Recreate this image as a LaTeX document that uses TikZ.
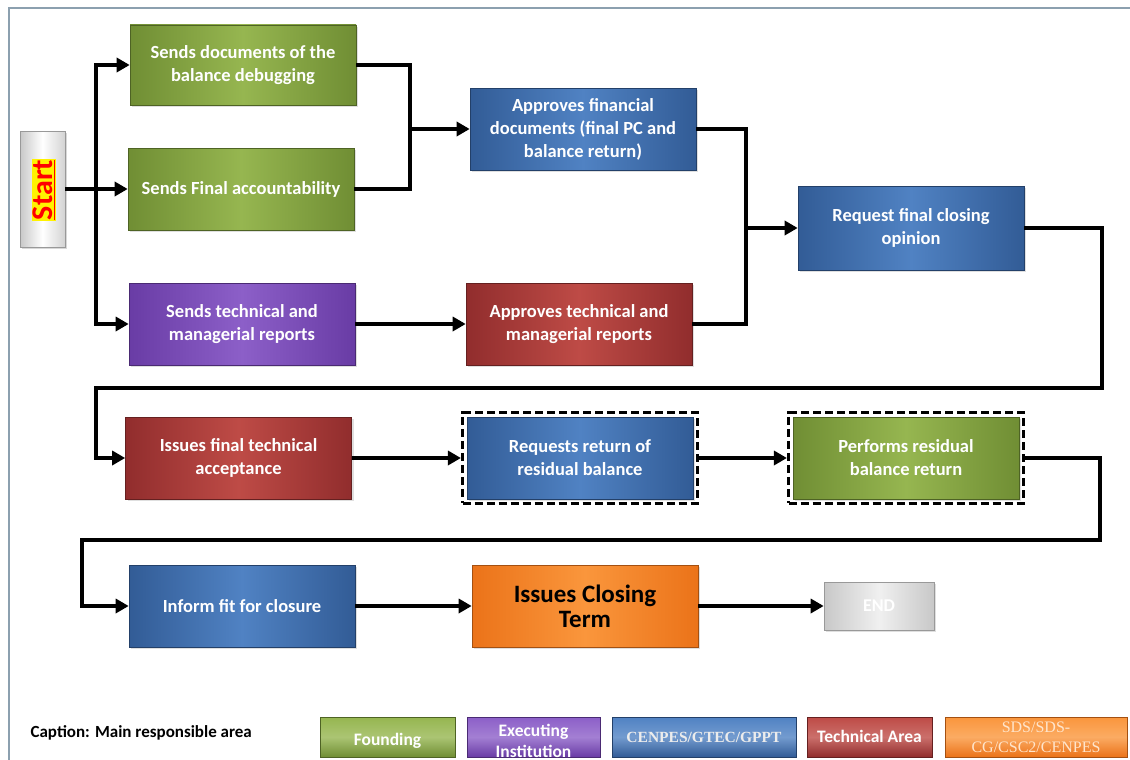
\documentclass[tikz,border=0pt]{standalone}
\usepackage{fontspec}
\setmainfont{Carlito}
\newfontfamily\legserif{Liberation Serif}
\usetikzlibrary{arrows.meta,shadows,fit}

\definecolor{grnD}{RGB}{112,142,52}
\definecolor{grnL}{RGB}{150,182,80}
\definecolor{bluD}{RGB}{50,92,150}
\definecolor{bluL}{RGB}{80,130,195}
\definecolor{purD}{RGB}{105,60,165}
\definecolor{purL}{RGB}{140,95,200}
\definecolor{redD}{RGB}{145,45,45}
\definecolor{redL}{RGB}{190,75,70}
\definecolor{orgD}{RGB}{235,115,25}
\definecolor{orgL}{RGB}{250,150,60}
\definecolor{gryD}{RGB}{200,200,200}
\definecolor{gryL}{RGB}{240,240,240}
\definecolor{frameC}{RGB}{140,160,175}

\tikzset{
  box/.style={rectangle, draw=#1D!70!black, line width=0.6pt,
    left color=#1D, right color=#1D, middle color=#1L,
    text=white, align=center, font=\bfseries\fontsize{18.5}{23}\selectfont,
    minimum width=226pt, minimum height=82pt, inner sep=2pt,
    drop shadow={shadow xshift=2pt, shadow yshift=-2pt, opacity=0.25}},
  dashframe/.style={draw=black, dashed, dash pattern=on 8pt off 4pt,
    line width=3.5pt, inner sep=4pt},
  link/.style={line width=3.5pt, line join=miter},
  arr/.style={link, -{Triangle[length=13pt,width=14pt]}},
  legbox/.style={rectangle, draw=#1D!70!black, line width=0.5pt,
    top color=#1L, bottom color=#1D, middle color=#1L!80!white,
    minimum height=40pt, inner sep=0pt},
  legtxt/.style={text=white, font=\bfseries\fontsize{17.5}{21}\selectfont, align=center},
}

\begin{document}
\begin{tikzpicture}[x=1pt,y=-1pt]
\useasboundingbox (0,0) rectangle (1130,760);
\fill[white] (0,0) rectangle (1130,760);
% outer frame lines
\draw[frameC, line width=1.2pt] (9,760) -- (9,8) -- (1130,8);

% start block
\node[rectangle, draw=gray!80, line width=0.8pt, left color=gryD, right color=gryD!80,
      middle color=white, minimum width=45pt, minimum height=116pt,
      drop shadow={shadow xshift=2pt, shadow yshift=-2pt, opacity=0.3}] (start) at (42.5,189) {};
\node[rotate=90, fill=yellow, text=red, inner sep=1pt,
      font=\bfseries\fontsize{30}{30}\selectfont] (startlbl) at (44,190) {\underline{Start}};

% process boxes
\node[box=grn, minimum height=80pt] (b1) at (243,65) {Sends documents of the\\balance debugging};
\node[box=grn] (b2) at (241,189) {Sends Final accountability};
\node[box=pur] (b3) at (242,324) {Sends technical and\\managerial reports};
\node[box=blu] (b4) at (583,129) {Approves financial\\documents (final PC and\\balance return)};
\node[box=red] (b5) at (579,324) {Approves technical and\\managerial reports};
\node[box=blu, minimum height=84pt] (b6) at (911,228) {Request final closing\\opinion};
\node[box=red] (b7) at (238.5,458) {Issues final technical\\acceptance};
\node[box=blu] (b8) at (580,458) {Requests return of\\residual balance};
\node[dashframe, fit=(b8)] (b8f) {};
\node[box=grn] (b9) at (906,458) {Performs residual\\balance return};
\node[dashframe, fit=(b9)] (b9f) {};
\node[box=blu] (b10) at (242,606) {Inform fit for closure};
\node[box=org, text=black, font=\bfseries\fontsize{25}{25}\selectfont] (b11) at (585,606) {Issues Closing\\Term};
\node[box=gry, minimum width=110pt, minimum height=48pt, draw=gray!80,
      font=\bfseries\fontsize{18}{18}\selectfont] (b12) at (879,606) {END};

% branch points
\coordinate (t) at (96,189);
\coordinate (m1) at (410,129);
\coordinate (m2) at (746,228);
\coordinate (r1) at (1102,388);
\coordinate (l1) at (96,388);
\coordinate (r2) at (1100,540);
\coordinate (l2) at (82,540);

% connectors
\draw[link] (start.east) -- (t);
\draw[arr] (t) |- (b1.west);
\draw[arr] (t) -- (b2.west);
\draw[arr] (t) |- (b3.west);
\draw[link] (b1.east) -| (m1);
\draw[link] (b2.east) -| (m1);
\draw[arr] (m1) -- (b4.west);
\draw[arr] (b3.east) -- (b5.west);
\draw[link] (b4.east) -| (m2);
\draw[link] (b5.east) -| (m2);
\draw[arr] (m2) -- (b6.west);
\draw[arr] (b6.east) -| (r1) -- (l1) |- (b7.west);
\draw[arr] (b7.east) -- (b8f.west);
\draw[arr] (b8f.east) -- (b9f.west);
\draw[arr] (b9f.east) -| (r2) -- (l2) |- (b10.west);
\draw[arr] (b10.east) -- (b11.west);
\draw[arr] (b11.east) -- (b12.west);

% legend
\node[anchor=west, font=\bfseries\fontsize{17}{18}\selectfont] (cap) at (27,733) {Caption: Main responsible area};
\node[legbox=grn, minimum width=135pt] (lg1) at (387.5,737) {};
\node[legtxt] (lg1t) at (387.5,741) {Founding};
\node[legbox=pur, minimum width=133pt] (lg2) at (533.5,737) {};
\node[legtxt] (lg2t) at (533.5,741) {Executing\\Institution};
\node[legbox=blu, minimum width=184pt] (lg3) at (704,737) {};
\node[text=white!85!gray, font=\legserif\bfseries\fontsize{15.5}{18}\selectfont] (lg3t) at (704,737) {CENPES/GTEC/GPPT};
\node[legbox=red, minimum width=125pt] (lg4) at (869.5,737) {};
\node[legtxt] (lg4t) at (869.5,736) {Technical Area};
\node[legbox=org, minimum width=182pt] (lg5) at (1036,737) {};
\node[text=white!80!orange, align=center, font=\legserif\fontsize{16}{20}\selectfont] (lg5t) at (1036,737) {SDS/SDS-\\CG/CSC2/CENPES};
\end{tikzpicture}
\end{document}
